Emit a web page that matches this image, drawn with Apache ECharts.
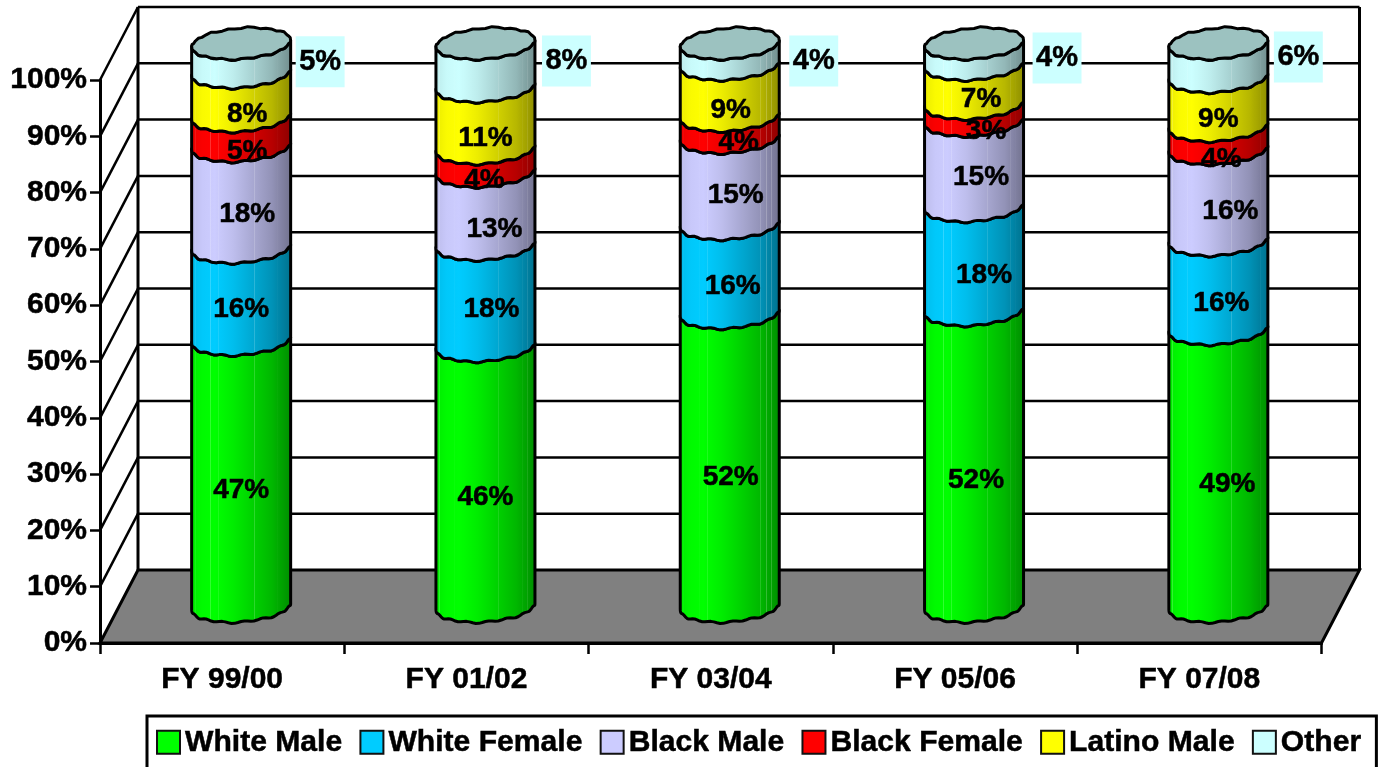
<!DOCTYPE html>
<html>
<head>
<meta charset="utf-8">
<title>FY workforce share</title>
<style>
html, body { margin: 0; padding: 0; background: #fff; overflow: hidden; }
#chart { width: 1382px; height: 767px; }
</style>
<script src="https://cdn.jsdelivr.net/npm/echarts@6/dist/echarts.min.js"></script>
</head>
<body>
<div id="chart"></div>
<script>
// values, in percent, one entry per fiscal year
var categories = ['FY 99/00', 'FY 01/02', 'FY 03/04', 'FY 05/06', 'FY 07/08'];
var whiteMale = [47.4, 46.3, 52.1, 52.4, 49.3];
var whiteFemale = [16.4, 18.0, 15.8, 18.4, 15.8];
var blackMale = [18.0, 13.0, 15.3, 15.1, 16.2];
var blackFemale = [5.3, 4.1, 3.9, 3.0, 4.1];
var latinoMale = [7.8, 11.0, 9.1, 6.9, 8.7];
var other = [5.1, 7.6, 3.7, 3.7, 5.9];
var seriesNames = ['White Male', 'White Female', 'Black Male', 'Black Female', 'Latino Male', 'Other'];
var seriesValues = [whiteMale, whiteFemale, blackMale, blackFemale, latinoMale, other];
var wallTicks = [0, 10, 20, 30, 40, 50, 60, 70, 80, 90, 100];

var seriesColors = ['#00ff00', '#00ccff', '#ccccff', '#ff0000', '#ffff00', '#ccffff'];
var FONT = '"Liberation Sans", Arial, sans-serif';
var DEPTH_X = 38, DEPTH_Y = 73;     // how far the back wall sits from the front axis
var RX = 49.5, RY = 15.5, TILT = 3.5;

// where Excel left each label, relative to the middle of its segment: [dx, dy] per year
var labelNudge = [
	[[0, 17], [0, 21], [1, 18], [2, 22], [9, 17]],
	[[0, 16], [6, 14], [3, 18], [10, 17], [3, 19]],
	[[6, 18], [9, 21], [6, 15], [7, 14], [12, 17]],
	[[6, 20], [-1, 21], [9, 16], [12, 19], [3, 22]],
	[[6, 20], [0, 21], [1, 20], [7, 15], [0, 18]]
];
// the "Other" labels stand beside the cylinder on a pale box
var otherNudge = [[79, 4], [81, -4], [84, 7], [83, 4], [80, -3]];

var chart = echarts.init(document.getElementById('chart'));

function shade(hex) {
	var rgb = [1, 3, 5].map(function(i) { return parseInt(hex.substr(i, 2), 16); });
	var profile = [[0, .92], [.12, .98], [.24, 1], [.42, .93], [.62, .82], [.8, .72], [1, .55]];
	var stripes = [.05, .2, .28, .63, .8, .86, .91];
	function factor(x) {
		for (var i = 1; i < profile.length; i++) {
			if (x <= profile[i][0]) {
				var a = profile[i - 1], b = profile[i];
				return a[1] + (b[1] - a[1]) * (x - a[0]) / (b[0] - a[0]);
			}
		}
		return profile[profile.length - 1][1];
	}
	function css(x, light) {
		var f = factor(x);
		return 'rgb(' + rgb.map(function(c) {
			return Math.round(c * f + (255 - c * f) * light);
		}).join(',') + ')';
	}
	var stops = [];
	profile.forEach(function(p) { stops.push({ offset: p[0], color: css(p[0], 0) }); });
	stripes.forEach(function(s) {
		stops.push({ offset: s - .004, color: css(s - .004, 0) });
		stops.push({ offset: s, color: css(s, .22) });
		stops.push({ offset: s + .004, color: css(s + .004, 0) });
	});
	stops.sort(function(a, b) { return a.offset - b.offset; });
	return new echarts.graphic.LinearGradient(0, 0, 1, 0, stops);
}

// one point of the slightly bumpy, tilted ellipse the old renderer left behind
function rim(cx, cy, t) {
	return [
		cx + RX * Math.cos(t),
		cy + RY * Math.sin(t) - TILT * Math.cos(t) + .8 * Math.sin(15 * t + .6) + .35 * Math.sin(7 * t + 2)
	];
}

function arc(cx, cy, from, to) {
	var pts = [], n = 48;
	for (var i = 0; i <= n; i++) {
		pts.push(rim(cx, cy, from + (to - from) * i / n));
	}
	return pts;
}

function wallItem(params, api) {
	var box = params.coordSys;
	var v = api.value(1);
	var y = api.coord([0, v])[1];
	var left = box.x, right = box.x + box.width;
	var line = { stroke: '#000', lineWidth: 2.5 };
	var kids = [];
	if (v === 0) {
		kids.push({
			type: 'polygon',
			shape: { points: [[left, y], [left + DEPTH_X, y - DEPTH_Y], [right + DEPTH_X, y - DEPTH_Y], [right, y]] },
			style: { fill: '#808080', stroke: '#000', lineWidth: 3 },
			z2: 5
		});
		var top = box.y - DEPTH_Y;
		kids.push({ type: 'line', shape: { x1: left + DEPTH_X, y1: top, x2: left + DEPTH_X, y2: y - DEPTH_Y }, style: { stroke: '#000', lineWidth: 3 }, z2: 6 });
		kids.push({ type: 'line', shape: { x1: right + DEPTH_X, y1: top, x2: right + DEPTH_X, y2: y - DEPTH_Y }, style: { stroke: '#000', lineWidth: 3 }, z2: 6 });
		return { type: 'group', children: kids };
	}
	kids.push({ type: 'line', shape: { x1: left + DEPTH_X, y1: y - DEPTH_Y, x2: right + DEPTH_X, y2: y - DEPTH_Y }, style: line, z2: 1 });
	kids.push({ type: 'line', shape: { x1: left, y1: y, x2: left + DEPTH_X, y2: y - DEPTH_Y }, style: line, z2: 1 });
	return { type: 'group', children: kids };
}

function segmentItem(seriesIndex) {
	var fill = shade(seriesColors[seriesIndex]);
	return function(params, api) {
		var col = api.value(0);
		var start = api.coord([col, api.value(1)]);
		var end = api.coord([col, api.value(2)]);
		var cx = start[0] + DEPTH_X / 2;
		var yBottom = start[1] - DEPTH_Y / 2;
		var yTop = end[1] - DEPTH_Y / 2;
		var outline = arc(cx, yTop, Math.PI, 0).concat(arc(cx, yBottom, 0, Math.PI));
		var kids = [{
			type: 'polygon',
			shape: { points: outline },
			style: { fill: fill, stroke: '#000', lineWidth: 3, lineJoin: 'round' },
			z2: 10 + seriesIndex
		}];
		var label = Math.round(api.value(3)) + '%';
		var midY = (yTop + yBottom) / 2;
		if (seriesIndex === 5) {
			kids.push({
				type: 'polygon',
				shape: { points: arc(cx, yTop, 0, Math.PI * 2) },
				style: { fill: '#9cc2c0', stroke: '#000', lineWidth: 3, lineJoin: 'round' },
				z2: 20
			});
			var side = otherNudge[col];
			kids.push({
				type: 'text',
				x: cx + side[0],
				y: midY + side[1],
				style: {
					text: label, fill: '#000', font: 'bold 29px ' + FONT,
					stroke: '#000', lineWidth: .5,
					align: 'center', verticalAlign: 'middle',
					backgroundColor: '#ccffff', padding: [11, 3.5, 11, 3.5]
				},
				z2: 30
			});
		} else {
			var nudge = labelNudge[seriesIndex][col];
			kids.push({
				type: 'text',
				x: cx + nudge[0],
				y: midY + nudge[1],
				style: {
					text: label, fill: '#000', font: 'bold 28px ' + FONT,
					stroke: '#000', lineWidth: .5,
					align: 'center', verticalAlign: 'middle'
				},
				z2: 30
			});
		}
		return { type: 'group', children: kids };
	};
}

// the chart is a 100% stack, so every year is scaled to its own total
function stackedData(seriesIndex) {
	return categories.map(function(name, col) {
		var total = 0, below = 0;
		seriesValues.forEach(function(values, s) {
			total += values[col];
			if (s < seriesIndex) below += values[col];
		});
		var value = seriesValues[seriesIndex][col];
		return [col, below / total * 100, (below + value) / total * 100, value];
	});
}

var series = [{
	type: 'custom',
	name: 'walls',
	z: 1,
	silent: true,
	renderItem: wallItem,
	encode: { x: 0, y: 1 },
	data: wallTicks.map(function(v) { return [0, v]; })
}];
seriesNames.forEach(function(name, i) {
	series.push({
		type: 'custom',
		name: name,
		z: 2,
		itemStyle: { color: seriesColors[i] },
		renderItem: segmentItem(i),
		encode: { x: 0, y: [1, 2] },
		data: stackedData(i)
	});
});

var boldText = { color: '#000', fontWeight: 'bold', fontSize: 30, fontFamily: FONT, textBorderColor: '#000', textBorderWidth: .5 };

chart.setOption({
	animation: false,
	backgroundColor: '#fff',
	textStyle: { fontFamily: FONT },
	grid: { left: 100, right: 60.5, top: 80, bottom: 124 },
	legend: {
		left: 147,
		top: 716,
		orient: 'horizontal',
		selectedMode: false,
		itemWidth: 23,
		itemHeight: 23,
		itemGap: 17,
		padding: [11, 15, 20, 9],
		borderColor: '#000',
		borderWidth: 3,
		textStyle: Object.assign({}, boldText, { fontSize: 30.1 }),
		data: seriesNames.map(function(name, i) {
			return {
				name: name,
				icon: 'rect',
				itemStyle: { color: seriesColors[i], borderColor: '#111', borderWidth: 2 }
			};
		})
	},
	xAxis: {
		type: 'category',
		data: categories,
		z: 5,
		axisLine: { lineStyle: { color: '#000', width: 3 } },
		axisTick: { show: true, length: 11, alignWithLabel: false, lineStyle: { color: '#000', width: 2.5 } },
		axisLabel: Object.assign({}, boldText, { margin: 22, interval: 0 })
	},
	yAxis: {
		type: 'value',
		min: 0,
		max: 100,
		interval: 10,
		z: 5,
		splitLine: { show: false },
		axisLine: { show: true, lineStyle: { color: '#000', width: 3 } },
		axisTick: { show: true, length: 10, lineStyle: { color: '#000', width: 2.5 } },
		axisLabel: Object.assign({}, boldText, { margin: 13, formatter: '{value}%' })
	},
	series: series
});
</script>
</body>
</html>
